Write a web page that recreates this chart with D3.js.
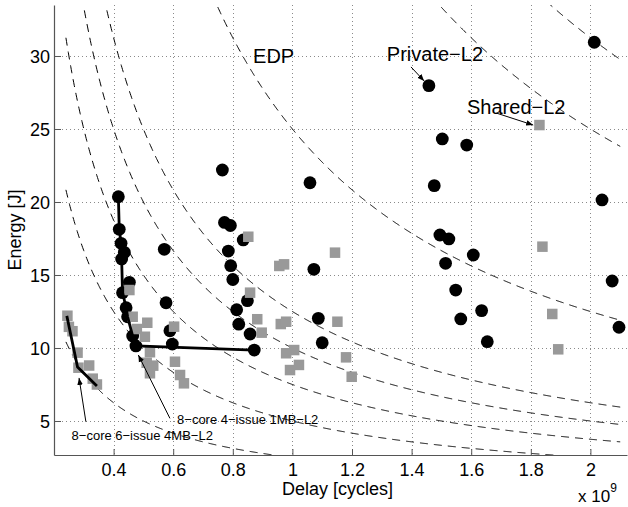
<!DOCTYPE html>
<html>
<head>
<meta charset="utf-8">
<script src="https://cdn.jsdelivr.net/npm/d3@7"></script>
<style>
  html, body { margin: 0; padding: 0; background: #fff; }
  svg { display: block; font-family: "Liberation Sans", Arial, Helvetica, sans-serif; }
</style>
</head>
<body>
<svg id="chart" width="628" height="507"></svg>
<script>
// Delay (x 1e9 cycles) and energy (J) of each design point
const privateDelay = [0.416, 0.419, 0.425, 0.436, 0.427, 0.570, 0.453, 0.430, 0.442, 0.447,
  0.576, 0.589, 0.464, 0.475, 0.597, 0.772, 0.792, 0.785, 0.793, 0.800,
  0.813, 0.820, 0.765, 1.059, 0.835, 1.072, 0.849, 0.858, 0.872, 1.087,
  1.100, 2.013, 1.458, 1.503, 1.585, 1.476, 2.039, 1.495, 1.525, 1.607,
  1.514, 2.073, 1.548, 1.635, 1.565, 2.096, 1.654];
const privateEnergy = [20.36, 18.13, 17.17, 16.55, 16.10, 16.76, 14.50, 13.79, 12.76, 12.14,
  13.10, 11.18, 10.82, 10.14, 10.27, 18.60, 18.39, 16.64, 15.64, 14.69,
  12.62, 11.63, 22.19, 21.32, 17.40, 15.39, 13.24, 10.96, 9.86, 12.03,
  10.36, 30.94, 27.97, 24.32, 23.90, 21.12, 20.14, 17.74, 17.47, 16.37,
  15.80, 14.59, 13.97, 12.56, 11.99, 11.42, 10.43];

const sharedDelay = [0.245, 0.250, 0.262, 0.279, 0.282, 0.318, 0.330, 0.344,
  0.453, 0.464, 0.478, 0.513, 0.505, 0.522, 0.603, 0.606, 0.511, 0.533, 0.522, 0.623, 0.636,
  0.852, 0.956, 0.972, 1.143, 0.858, 0.882, 0.897, 0.961, 0.979, 1.151, 0.979, 1.006,
  0.992, 1.022, 1.180, 1.199,
  1.829, 1.839, 1.872, 1.892];
const sharedEnergy = [12.21, 11.45, 11.15, 9.68, 8.65, 8.80, 7.90, 7.50,
  13.97, 12.14, 11.30, 11.73, 10.77, 9.71, 11.46, 9.06, 8.99, 8.79, 8.27, 8.15, 7.58,
  17.62, 15.62, 15.73, 16.53, 13.79, 11.97, 11.05, 11.64, 11.80, 11.80, 9.64, 9.86,
  8.49, 8.84, 9.36, 8.03,
  25.27, 16.94, 12.33, 9.91];

// Pareto fronts
const privateFrontDelay = [0.416, 0.419, 0.425, 0.427, 0.430, 0.442, 0.447, 0.464, 0.475, 0.872];
const privateFrontEnergy = [20.36, 18.13, 17.17, 16.10, 13.79, 12.76, 12.14, 10.82, 10.14, 9.86];
const sharedFrontDelay = [0.243, 0.279, 0.344];
const sharedFrontEnergy = [12.2, 8.7, 7.4];

// Iso energy-delay-product levels (E * D = const)
const edpLevels = [2.5, 5, 7.5, 10, 12.5, 25, 50, 62.5];
const edpDelayStart = 0.24, edpDelayEnd = 2.1;

const xTicks = [0.4, 0.6, 0.8, 1.0, 1.2, 1.4, 1.6, 1.8, 2.0];
const xTickLabels = ["0.4", "0.6", "0.8", "1", "1.2", "1.4", "1.6", "1.8", "2"];
const yTicks = [5, 10, 15, 20, 25, 30];

const svg = d3.select("#chart");
const plot = { left: 54, top: 5, right: 627, bottom: 455 };

const x = d3.scaleLinear().domain([0.2, 2.1228]).range([plot.left, plot.right]);
const y = d3.scaleLinear().domain([2.671, 33.493]).range([plot.bottom, plot.top]);

svg.append("defs").append("clipPath").attr("id", "plotClip")
  .append("rect").attr("x", plot.left).attr("y", plot.top)
  .attr("width", plot.right - plot.left).attr("height", plot.bottom - plot.top);

const arrowDefs = svg.select("defs");
arrowDefs.append("marker").attr("id", "arrowHead")
  .attr("viewBox", "0 0 10 10").attr("refX", 10).attr("refY", 5)
  .attr("markerWidth", 7).attr("markerHeight", 7).attr("markerUnits", "userSpaceOnUse")
  .attr("orient", "auto")
  .append("path").attr("d", "M0,1 L10,5 L0,9 Z").attr("fill", "#000");

// dotted grid
const grid = svg.append("g").attr("stroke", "#8a8a8a").attr("stroke-width", 1)
  .attr("stroke-dasharray", "1,3").attr("shape-rendering", "crispEdges");
grid.selectAll("line.gx").data(xTicks).join("line").attr("class", "gx")
  .attr("x1", d => Math.round(x(d)) + 0.5).attr("x2", d => Math.round(x(d)) + 0.5)
  .attr("y1", plot.top).attr("y2", plot.bottom);
grid.selectAll("line.gy").data(yTicks).join("line").attr("class", "gy")
  .attr("y1", d => Math.round(y(d)) + 0.5).attr("y2", d => Math.round(y(d)) + 0.5)
  .attr("x1", plot.left).attr("x2", plot.right);

// EDP contours
const contourLine = d3.line().x(d => x(d[0])).y(d => y(d[1]));
const contours = svg.append("g").attr("clip-path", "url(#plotClip)");
edpLevels.forEach(c => {
  const pts = d3.range(edpDelayStart, edpDelayEnd + 1e-9, 0.002).map(dl => [dl, c / dl]);
  contours.append("path").attr("d", contourLine(pts))
    .attr("fill", "none").attr("stroke", "#000").attr("stroke-width", 1)
    .attr("stroke-dasharray", "8,6");
});

// axes
const xAxis = d3.axisBottom(x).tickValues(xTicks).tickFormat((d, i) => xTickLabels[i])
  .tickSizeInner(-6).tickSizeOuter(0).tickPadding(8);
const yAxis = d3.axisLeft(y).tickValues(yTicks).tickFormat(d3.format("d"))
  .tickSizeInner(-7).tickSizeOuter(0).tickPadding(4);

const gx = svg.append("g").attr("transform", `translate(0,${plot.bottom})`).call(xAxis);
const gy = svg.append("g").attr("transform", `translate(${plot.left},0)`).call(yAxis);
[gx, gy].forEach(g => {
  g.select(".domain").attr("stroke", "#555").attr("stroke-width", 1.2);
  g.selectAll(".tick line").attr("stroke", "#555");
  g.selectAll(".tick text").attr("fill", "#000").attr("font-size", 18)
    .attr("font-family", "'Liberation Sans', Arial, sans-serif");
});
gy.selectAll(".tick text").attr("dy", "0.36em");

// points
const privatePts = privateDelay.map((d, i) => [d, privateEnergy[i]]);
const sharedPts = sharedDelay.map((d, i) => [d, sharedEnergy[i]]);

svg.append("g").selectAll("circle").data(privatePts).join("circle")
  .attr("cx", d => x(d[0])).attr("cy", d => y(d[1])).attr("r", 6.4).attr("fill", "#000");

const sq = 10.5;
svg.append("g").selectAll("rect").data(sharedPts).join("rect")
  .attr("x", d => x(d[0]) - sq / 2).attr("y", d => y(d[1]) - sq / 2)
  .attr("width", sq).attr("height", sq).attr("fill", "#999");

// pareto lines
const frontLine = d3.line().x(d => x(d[0])).y(d => y(d[1]));
svg.append("path")
  .attr("d", frontLine(privateFrontDelay.map((d, i) => [d, privateFrontEnergy[i]])))
  .attr("fill", "none").attr("stroke", "#000").attr("stroke-width", 2.8);
svg.append("path")
  .attr("d", frontLine(sharedFrontDelay.map((d, i) => [d, sharedFrontEnergy[i]])))
  .attr("fill", "none").attr("stroke", "#000").attr("stroke-width", 2.8);

// annotations
const notes = [
  { text: "EDP", at: [0.868, 29.52], size: 20 },
  { text: "Private\u2212L2", at: [1.317, 29.66], size: 20 },
  { text: "Shared\u2212L2", at: [1.586, 26.03], size: 20 },
  { text: "8\u2212core 4\u2212issue 1MB\u2212L2", at: [0.613, 4.79], size: 13 },
  { text: "8\u2212core 6\u2212issue 4MB\u2212L2", at: [0.259, 3.70], size: 13 }
];
svg.append("g").selectAll("text").data(notes).join("text")
  .attr("x", d => x(d.at[0])).attr("y", d => y(d.at[1]))
  .attr("font-size", d => d.size).attr("fill", "#000").text(d => d.text);

const arrows = [
  { from: [1.398, 29.25], to: [1.442, 28.29] },
  { from: [1.686, 26.08], to: [1.808, 25.27] },
  { from: [0.589, 5.18], to: [0.483, 9.52] },
  { from: [0.307, 4.95], to: [0.284, 7.95] }
];
svg.append("g").selectAll("line").data(arrows).join("line")
  .attr("x1", d => x(d.from[0])).attr("y1", d => y(d.from[1]))
  .attr("x2", d => x(d.to[0])).attr("y2", d => y(d.to[1]))
  .attr("stroke", "#000").attr("stroke-width", 1).attr("marker-end", "url(#arrowHead)");

// axis titles
svg.append("text").attr("x", (plot.left + plot.right) / 2 - 3).attr("y", 495)
  .attr("text-anchor", "middle").attr("font-size", 18).text("Delay [cycles]");
svg.append("text")
  .attr("transform", `translate(21,${(plot.top + plot.bottom) / 2}) rotate(-90)`)
  .attr("text-anchor", "middle").attr("font-size", 18).text("Energy [J]");

const expo = svg.append("text").attr("x", 578).attr("y", 502).attr("font-size", 17);
expo.append("tspan").text("x 10");
expo.append("tspan").attr("font-size", 12).attr("dy", -10).text("9");
</script>
</body>
</html>
